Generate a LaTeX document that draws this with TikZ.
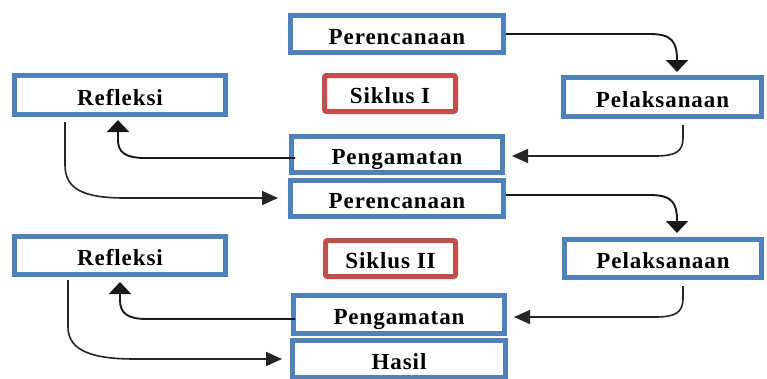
\documentclass[tikz,border=0pt]{standalone}
\usepackage{fontspec}
\setmainfont{Liberation Serif}[LetterSpace=4]
\usetikzlibrary{arrows.meta}
\definecolor{boxblue}{HTML}{4F81BD}
\definecolor{boxred}{HTML}{C0504D}
\tikzset{
  stagebox/.style={draw=boxblue, line width=5pt, fill=white, inner sep=0pt,
    text height=20pt, text depth=0pt,
    font=\fontsize{23}{26}\selectfont\bfseries},
  cyclebox/.style={draw=boxred, line width=5pt, fill=white, inner sep=0pt,
    rounded corners=2pt, text height=20pt, text depth=0pt,
    font=\fontsize{23}{26}\selectfont\bfseries},
  harr/.style={-{Triangle[length=16pt,width=14pt]}, line width=1.6pt, black!85},
  varr/.style={-{Triangle[length=12pt,width=22pt]}, line width=1.9pt, black!90},
}
\begin{document}
\begin{tikzpicture}[x=1pt,y=-1pt]
\useasboundingbox (0,0) rectangle (767,378);
\clip (0,0) rectangle (767,378);

% Cycle I
\node[stagebox, minimum width=213pt, minimum height=37pt] (P1) at (397,34) {Perencanaan};
\node[stagebox, minimum width=211pt, minimum height=39pt] (R1) at (120,95) {Refleksi};
\node[cyclebox, minimum width=131pt, minimum height=36pt] (S1) at (390,93.5) {Siklus I};
\node[stagebox, minimum width=198pt, minimum height=39pt] (L1) at (662.5,97) {Pelaksanaan};
\node[stagebox, minimum width=211pt, minimum height=36pt] (G1) at (397,154.5) {Pengamatan};

% Cycle II
\node[stagebox, minimum width=213pt, minimum height=36pt] (P2) at (397,198) {Perencanaan};
\node[cyclebox, minimum width=130pt, minimum height=36pt] (S2) at (390.5,258.5) {Siklus II};
\node[stagebox, minimum width=211pt, minimum height=38pt] (R2) at (120,255.5) {Refleksi};
\node[stagebox, minimum width=197pt, minimum height=38pt] (L2) at (663,258.5) {Pelaksanaan};
\node[stagebox, minimum width=211pt, minimum height=38pt] (G2) at (399,314.5) {Pengamatan};
\node[stagebox, minimum width=213pt, minimum height=37pt] (H) at (399,359) {Hasil};

% Connectors cycle I
\draw[varr, shorten >=3pt] (P1.east) -- (650,34) .. controls (672,34) and (677,42) .. (677,60)
  -- ([xshift=14.5pt]L1.north);
\draw[harr, shorten <=6pt, shorten >=7pt] ([xshift=20.5pt]L1.south) -- (683,138)
  .. controls (683,152) and (675,156) .. (655,156) -- ([yshift=-1.5pt]G1.east);
\draw[varr, shorten <=-6pt, shorten >=3pt] ([yshift=-3.5pt]G1.west) -- (145,158)
  .. controls (125,158) and (118,152) .. (118,140) -- ([xshift=-2pt]R1.south);
\draw[harr, shorten <=5pt, shorten >=10pt] ([xshift=53pt]R1.south west) -- (65,165)
  .. controls (65,190) and (85,198) .. (125,198) -- (P2.west);

% Connectors cycle II
\draw[varr, shorten >=4pt] ([yshift=3pt]P2.east) -- (650,195) .. controls (672,195) and (677,203) .. (677,220)
  -- ([xshift=14pt]L2.north);
\draw[harr, shorten <=6pt, shorten >=7pt] ([xshift=20pt]L2.south) -- (683,298)
  .. controls (683,313) and (675,317) .. (655,317) -- ([yshift=-2.5pt]G2.east);
\draw[varr, shorten <=-4pt, shorten >=5pt] ([yshift=-4.5pt]G2.west) -- (147,319)
  .. controls (127,319) and (120,313) .. (120,300) -- (R2.south);
\draw[harr, shorten <=3pt, shorten >=8pt] ([xshift=56pt]R2.south west) -- (68,327)
  .. controls (68,352) and (95,359) .. (135,359) -- (H.west);
\end{tikzpicture}
\end{document}
